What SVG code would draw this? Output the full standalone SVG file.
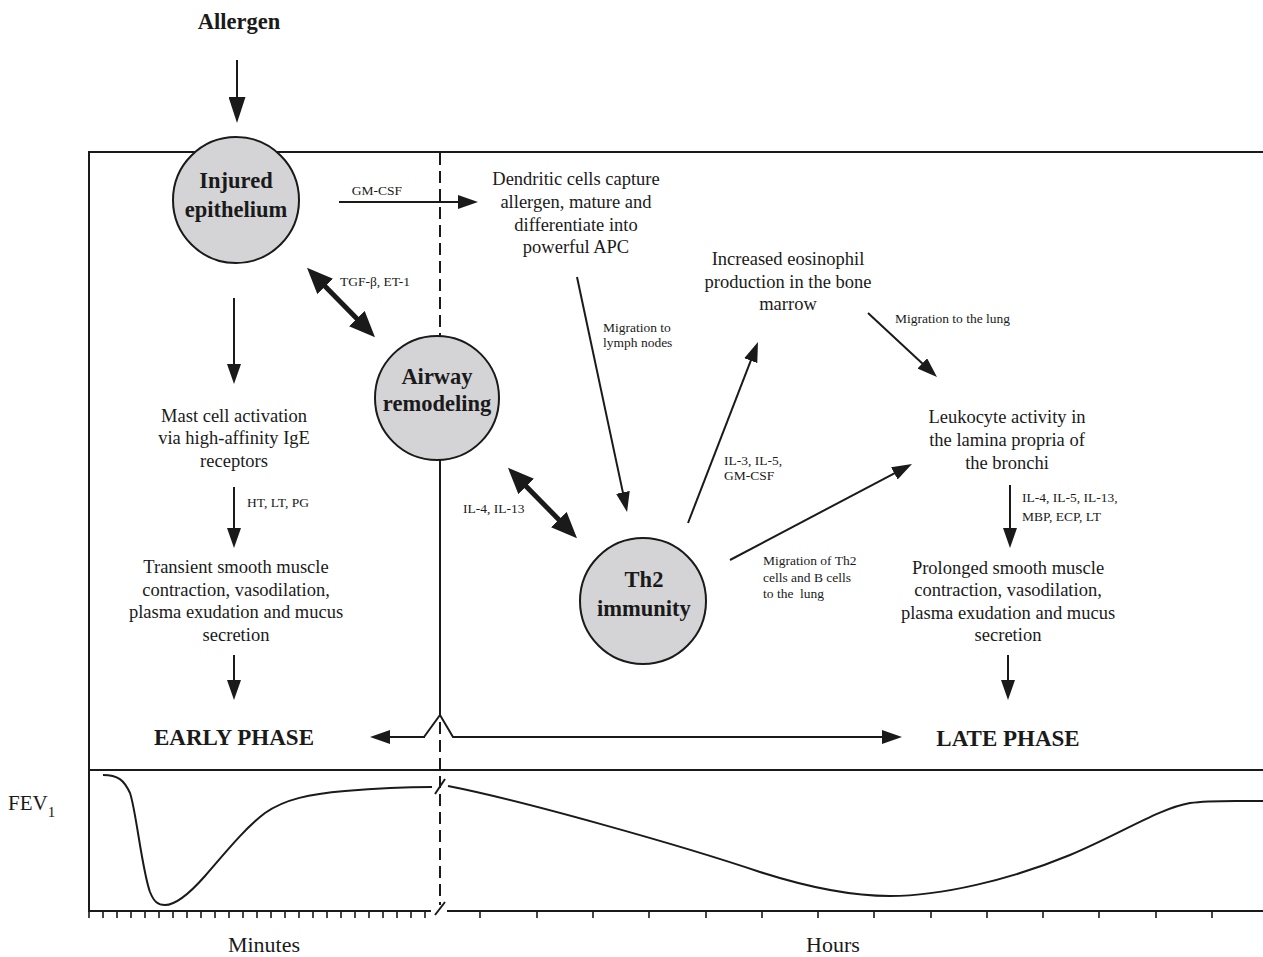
<svg xmlns="http://www.w3.org/2000/svg" width="1263" height="957" viewBox="0 0 1263 957">
<style>
text{font-family:"Liberation Serif","Times New Roman",serif;fill:#1a1a1a}
.t{font-size:18.5px;text-anchor:middle}
.s{font-size:13.5px}
.b{font-weight:bold;text-anchor:middle;font-size:22.5px}
.ph{font-weight:bold;text-anchor:middle;font-size:23px}
.ax{font-size:22px;text-anchor:middle}
.ln{stroke:#1a1a1a;stroke-width:2;fill:none}
.th{stroke:#1a1a1a;stroke-width:5;fill:none}
.dash{stroke:#1a1a1a;stroke-width:2;fill:none;stroke-dasharray:12 6}
.c{fill:#d4d4d6;stroke:#1a1a1a;stroke-width:2}
.tk{stroke:#1a1a1a;stroke-width:1.6}
</style>
<defs>
<marker id="a" markerUnits="userSpaceOnUse" markerWidth="20" markerHeight="14" refX="14" refY="7" orient="auto"><path d="M0,0 L20,7 L0,14 Z" fill="#1a1a1a"/></marker>
<marker id="ab" markerUnits="userSpaceOnUse" markerWidth="26" markerHeight="17" refX="18" refY="8.5" orient="auto"><path d="M0,0 L26,8.5 L0,17 Z" fill="#1a1a1a"/></marker>
<marker id="at" markerUnits="userSpaceOnUse" markerWidth="26" markerHeight="22" refX="16" refY="11" orient="auto-start-reverse"><path d="M0,0 L26,11 L0,22 Z" fill="#1a1a1a"/></marker>
</defs>
<rect width="1263" height="957" fill="#ffffff"/>

<g id="frame">
<line class="ln" x1="88" y1="152" x2="1263" y2="152"/>
<line class="ln" x1="89" y1="151" x2="89" y2="912"/>
<line class="ln" x1="88" y1="770" x2="1263" y2="770"/>
<line class="ln" x1="88" y1="911" x2="431" y2="911"/>
<line class="ln" x1="447" y1="911" x2="1263" y2="911"/>
<line class="ln" x1="435" y1="915" x2="445" y2="902"/>
<line class="dash" x1="440" y1="153" x2="440" y2="336"/>
<line class="dash" x1="440" y1="722" x2="440" y2="905"/>
</g>

<g id="ticks">
<path class="tk" d="M89,911v7M103,911v7M117,911v7M131,911v7M145,911v7M159,911v7M173,911v7M187,911v7M201,911v7M215,911v7M229,911v7M243,911v7M257,911v7M271,911v7M285,911v7M299,911v7M313,911v7M327,911v7M341,911v7M355,911v7M369,911v7M383,911v7M397,911v7M411,911v7M425,911v7"/>
<path class="tk" d="M480,911v7M537,911v7M593,911v7M649,911v7M706,911v7M762,911v7M818,911v7M874,911v7M931,911v7M987,911v7M1043,911v7M1099,911v7M1156,911v7M1212,911v7"/>
</g>

<g id="fev-curve">
<path class="ln" d="M103,775 C118,775 124,780 130,793 C136,810 142,870 150,892 C154,902 158,905 165,905 C175,905 190,893 205,876 C225,853 245,828 265,813 C285,799 310,794 345,791 C380,788 410,787 432,787"/>
<line class="ln" x1="435" y1="794" x2="445" y2="779"/>
<path class="ln" d="M448,786 C520,800 680,845 760,872 C810,888 850,896 890,896 C940,896 1010,880 1070,855 C1120,834 1160,808 1190,803 C1210,800 1230,801 1263,801"/>
</g>

<g id="connectors">
<line class="ln" x1="237" y1="60" x2="237" y2="115" stroke-width="4" marker-end="url(#ab)"/>
<line class="ln" x1="339" y1="202" x2="472" y2="202" marker-end="url(#a)"/>
<line class="ln" x1="234" y1="298" x2="234" y2="378" marker-end="url(#a)"/>
<line class="ln" x1="234" y1="487" x2="234" y2="542" marker-end="url(#a)"/>
<line class="ln" x1="234" y1="655" x2="234" y2="694" marker-end="url(#a)"/>
<line class="th" x1="314" y1="275" x2="368" y2="330" marker-start="url(#at)" marker-end="url(#at)"/>
<line class="th" x1="515" y1="475" x2="570" y2="531" marker-start="url(#at)" marker-end="url(#at)"/>
<line class="ln" x1="577" y1="277" x2="625.8" y2="506.1" marker-end="url(#a)"/>
<line class="ln" x1="688" y1="523" x2="755.8" y2="347.6" marker-end="url(#a)"/>
<line class="ln" x1="730" y1="560" x2="906.7" y2="466.8" marker-end="url(#a)"/>
<line class="ln" x1="868" y1="313" x2="932.6" y2="372.9" marker-end="url(#a)"/>
<line class="ln" x1="1010" y1="485" x2="1010" y2="542" marker-end="url(#a)"/>
<line class="ln" x1="1008" y1="655" x2="1008" y2="694" stroke-width="2.5" marker-end="url(#a)"/>
<line class="ln" stroke-width="2.5" x1="440" y1="460" x2="440" y2="716"/>
<polyline class="ln" stroke-width="2.5" points="424,737 440,715 453,737 896,737" marker-end="url(#a)"/>
<line class="ln" stroke-width="2.5" x1="425" y1="737" x2="376" y2="737" marker-end="url(#a)"/>
</g>

<g id="labels">
<text class="s" x="377" y="195" text-anchor="middle">GM-CSF</text>
<text class="s" x="340" y="286">TGF-β, ET-1</text>
<text class="s" x="247" y="507">HT, LT, PG</text>
<text class="s" x="463" y="513">IL-4, IL-13</text>
<text class="s" x="603" y="332">Migration to</text>
<text class="s" x="603" y="347">lymph nodes</text>
<text class="s" x="724" y="465">IL-3, IL-5,</text>
<text class="s" x="724" y="480">GM-CSF</text>
<text class="s" x="895" y="323">Migration to the lung</text>
<text class="s" x="763" y="565">Migration of Th2</text>
<text class="s" x="763" y="582">cells and B cells</text>
<text class="s" x="763" y="598" style="white-space:pre">to the  lung</text>
<text class="s" x="1022" y="502">IL-4, IL-5, IL-13,</text>
<text class="s" x="1022" y="521">MBP, ECP, LT</text>
</g>

<g id="allergen"><text class="b" x="239" y="29" font-size="23">Allergen</text></g>

<g id="injured-epithelium">
<circle class="c" cx="236" cy="200" r="63"/>
<text class="b" x="236" y="188">Injured</text>
<text class="b" x="236" y="217">epithelium</text>
</g>

<g id="airway-remodeling">
<circle class="c" cx="437" cy="398" r="62"/>
<text class="b" x="437" y="384">Airway</text>
<text class="b" x="437" y="411">remodeling</text>
</g>

<g id="th2-immunity">
<circle class="c" cx="643" cy="601" r="63"/>
<text class="b" x="644" y="587">Th2</text>
<text class="b" x="644" y="616">immunity</text>
</g>

<g id="dendritic">
<text class="t" x="576" y="185">Dendritic cells capture</text>
<text class="t" x="576" y="208">allergen, mature and</text>
<text class="t" x="576" y="231">differentiate into</text>
<text class="t" x="576" y="253">powerful APC</text>
</g>

<g id="eosinophil">
<text class="t" x="788" y="265">Increased eosinophil</text>
<text class="t" x="788" y="288">production in the bone</text>
<text class="t" x="788" y="310">marrow</text>
</g>

<g id="leukocyte">
<text class="t" x="1007" y="423">Leukocyte activity in</text>
<text class="t" x="1007" y="446">the lamina propria of</text>
<text class="t" x="1007" y="469">the bronchi</text>
</g>

<g id="prolonged">
<text class="t" x="1008" y="574">Prolonged smooth muscle</text>
<text class="t" x="1008" y="596">contraction, vasodilation,</text>
<text class="t" x="1008" y="619">plasma exudation and mucus</text>
<text class="t" x="1008" y="641">secretion</text>
</g>

<g id="mast-cell">
<text class="t" x="234" y="422">Mast cell activation</text>
<text class="t" x="234" y="444">via high-affinity IgE</text>
<text class="t" x="234" y="467">receptors</text>
</g>

<g id="transient">
<text class="t" x="236" y="573">Transient smooth muscle</text>
<text class="t" x="236" y="596">contraction, vasodilation,</text>
<text class="t" x="236" y="618">plasma exudation and mucus</text>
<text class="t" x="236" y="641">secretion</text>
</g>

<g id="early-phase"><text class="ph" x="234" y="745">EARLY PHASE</text></g>
<g id="late-phase"><text class="ph" x="1008" y="746">LATE PHASE</text></g>

<g id="axis-labels">
<text x="8" y="810" font-size="21">FEV<tspan font-size="15" dy="7">1</tspan></text>
<text class="ax" x="264" y="952">Minutes</text>
<text class="ax" x="833" y="952">Hours</text>
</g>
</svg>
